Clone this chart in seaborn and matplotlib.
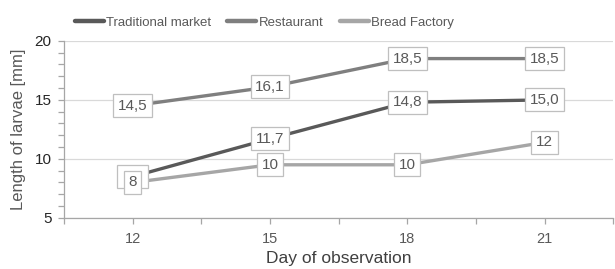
import matplotlib
matplotlib.use("Agg")
import matplotlib.pyplot as plt
import pandas as pd
import seaborn as sns

days = ["12", "15", "18", "21"]
traditional = [8.5, 11.7, 14.8, 15.0]
restaurant = [14.5, 16.1, 18.5, 18.5]
bread = [8.0, 9.5, 9.5, 11.4]
traditional_lbl = ["8,5", "11,7", "14,8", "15,0"]
restaurant_lbl = ["14,5", "16,1", "18,5", "18,5"]
bread_lbl = ["8", "10", "10", "12"]

series = ["Traditional market", "Restaurant", "Bread Factory"]
colors = ["#595959", "#7f7f7f", "#a6a6a6"]

df = pd.DataFrame({
    "day": days * 3,
    "length": traditional + restaurant + bread,
    "site": [s for s in series for _ in days],
})

sns.set_style("white")
plt.rcParams["font.family"] = ["Liberation Sans", "DejaVu Sans"]

fig = plt.figure(figsize=(6.15, 2.69), dpi=100)
ax = fig.add_axes([0.104, 0.19, 0.893, 0.658])

sns.lineplot(data=df, x="day", y="length", hue="site", palette=colors,
             linewidth=2.4, sort=False, ax=ax, legend=False, zorder=3)

# data labels (the first traditional-market label sits hidden under the bread one)
box = dict(boxstyle="square,pad=0.3", fc="white", ec="#bfbfbf", lw=0.9)
for vals, lbls in [(traditional, traditional_lbl), (restaurant, restaurant_lbl), (bread, bread_lbl)]:
    for i, (v, t) in enumerate(zip(vals, lbls)):
        hidden = vals is traditional and i == 0
        ax.text(i, v, t, ha="center", va="center", fontsize=11,
                color="none" if hidden else "#595959", zorder=4 if hidden else 5, bbox=box)

ax.set_xlim(-0.5, 3.45)
ax.set_ylim(5, 20)
ax.set_yticks([5, 10, 15, 20])
ax.set_yticks(range(5, 21), minor=True)
ax.set_xticks([0, 1, 2, 3])
ax.set_xticklabels(days)
ax.set_xticks([-0.5, 0.5, 1.5, 2.5, 3.5], minor=True)
ax.grid(axis="y", color="#d9d9d9", lw=0.9, zorder=0)
ax.set_axisbelow(True)
for s in ["top", "right"]:
    ax.spines[s].set_visible(False)
for s in ["left", "bottom"]:
    ax.spines[s].set_color("#a6a6a6")
    ax.spines[s].set_linewidth(0.9)
ax.tick_params(axis="both", which="both", direction="out", color="#a6a6a6",
               length=4, width=0.9)
ax.tick_params(axis="y", which="both", left=True, pad=5, labelsize=11, labelcolor="#262626")
ax.tick_params(axis="x", which="both", bottom=True, pad=6, labelsize=10.5, labelcolor="#595959")
ax.set_xlabel("Day of observation", fontsize=12.5, color="#404040", labelpad=4)
ax.set_ylabel("Length of larvae [mm]", fontsize=12, color="#595959", labelpad=6)

handles = [plt.Line2D([], [], color=c, lw=3.2) for c in colors]
fig.legend(handles, series, loc="center", bbox_to_anchor=(0.43, 0.915), ncol=3,
           frameon=False, fontsize=9.5, handlelength=2.2, handletextpad=0.2,
           columnspacing=1.2, labelcolor="#595959")

fig.savefig("out.png", dpi=100)
